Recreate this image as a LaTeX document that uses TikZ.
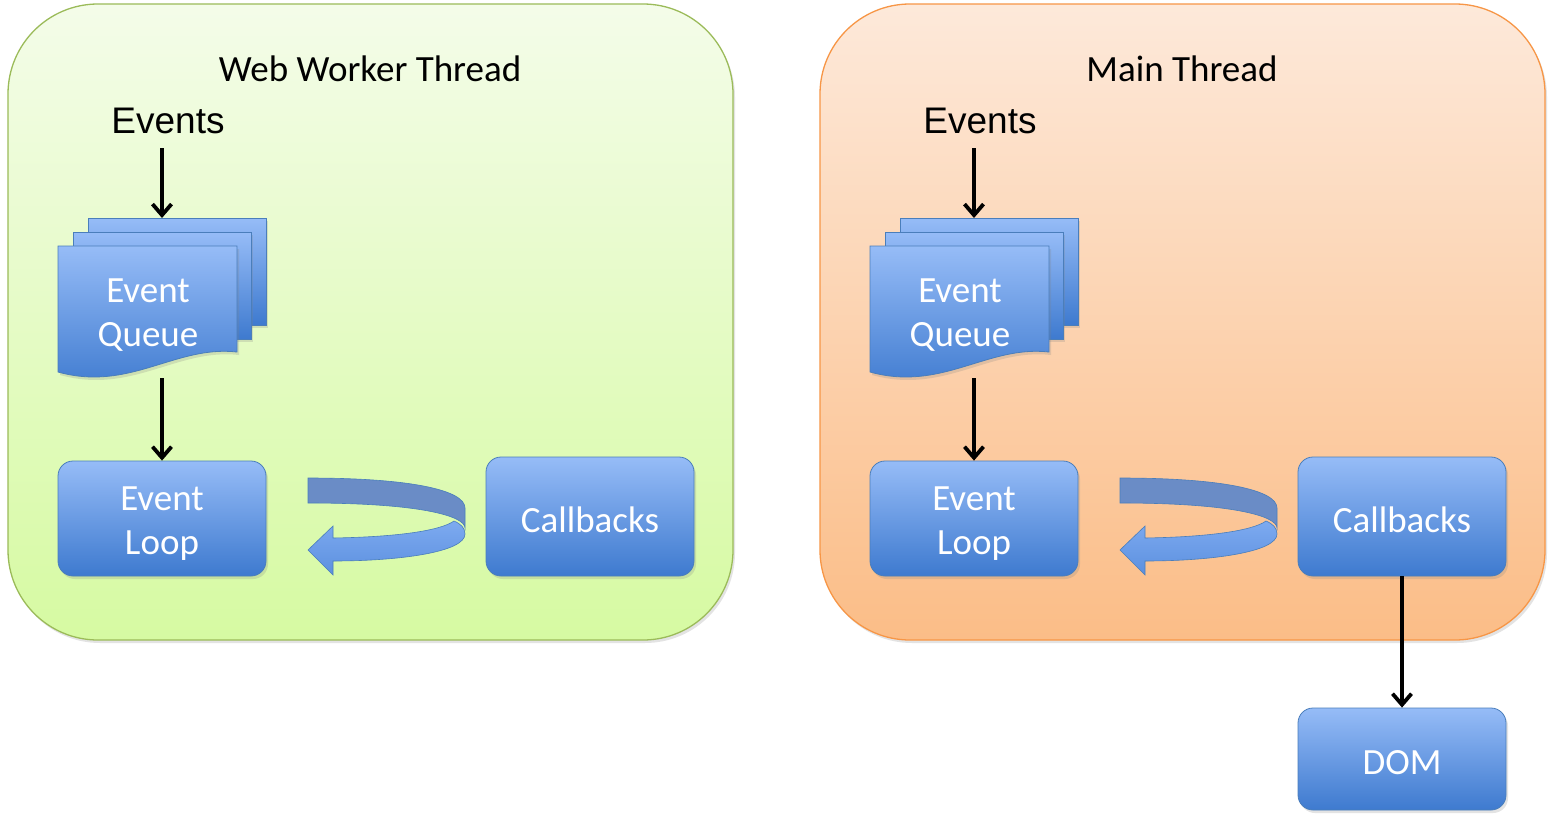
\documentclass[tikz,border=0pt]{standalone}
\usepackage{fontspec}
\setmainfont{Carlito}
\newfontfamily\arialf{Liberation Sans}
\usetikzlibrary{arrows.meta,shadows,calc}
\definecolor{gtop}{HTML}{F4FCE9}
\definecolor{gbot}{HTML}{D6FAA2}
\definecolor{gline}{HTML}{9BBB59}
\definecolor{otop}{HTML}{FDE9DA}
\definecolor{obot}{HTML}{FBBD87}
\definecolor{oline}{HTML}{F79646}
\definecolor{btop}{HTML}{96BCF7}
\definecolor{bbot}{HTML}{3E7ACF}
\definecolor{bline}{HTML}{4A7EBB}
\definecolor{bdark}{HTML}{6A8CC6}
\definecolor{bfront1}{HTML}{7DAAF0}
\definecolor{bfront2}{HTML}{5C90DF}
\tikzset{
  softshadow/.style={drop shadow={opacity=0.22, shadow xshift=2pt, shadow yshift=-3pt}},
  panel/.style={draw, line width=1.3pt, rounded corners=90pt, minimum width=725pt, minimum height=636pt, inner sep=0, softshadow},
  bigtext/.style={font=\fontsize{37}{44}\selectfont},
  box/.style={draw=bline, line width=0.8pt, rounded corners=15pt, top color=btop, bottom color=bbot,
    minimum width=208pt, inner sep=0, softshadow},
  boxtext/.style={text=white, bigtext, align=center, inner sep=0},
  sheet/.style={draw=bline, line width=0.8pt, top color=btop, bottom color=bbot, softshadow},
  ribbonback/.style={draw=bline, line width=0.6pt, fill=bdark},
  ribbonfront/.style={draw=bline, line width=0.6pt, top color=bfront1, bottom color=bfront2},
  arr/.style={line width=3.8pt, -{Straight Barb[length=11pt,width=19pt,line width=3.8pt]}},
}
\begin{document}
\begin{tikzpicture}[x=1pt,y=-1pt]
\useasboundingbox (0,0) rectangle (1553,822);
\fill[white] (0,0) rectangle (1553,822);
% panels
\node[panel, draw=gline, top color=gtop, bottom color=gbot] (wpanel) at (370.5,322) {};
\node[panel, draw=oline, top color=otop, bottom color=obot] (mpanel) at (1182.5,322) {};
\node[bigtext] (wtitle) at (370,69) {Web Worker Thread};
\node[bigtext] (mtitle) at (1182,69) {Main Thread};
\foreach \s/\dx in {1/0,2/812}{
\begin{scope}[xshift=\dx pt]
  \node[font=\arialf\fontsize{37}{44}\selectfont, inner sep=0] (ev\s) at (168,121) {Events};
  % stacked document
  \path[sheet] (88,218) rectangle (266,325);
  \path[sheet] (73,232) rectangle (251,339);
  \path[sheet] (58,246) -- (237,246) -- (237,352)
     .. controls (175,345) and (130,392) .. (58,372) -- cycle;
  \node[boxtext] (eq\s) at (148,315) {Event\\Queue};
  \node[box, minimum height=115pt] (loop\s) at (162,518.5) {};
  \node[boxtext] (loopt\s) at (162,524) {Event\\Loop};
  \node[box, minimum height=119pt] (cb\s) at (590,516.5) {};
  \node[boxtext] (cbt\s) at (590,519.5) {Callbacks};
  \coordinate (a\s) at (162,148);
  \coordinate (b\s) at (162,218);
  \coordinate (c\s) at (162,378);
  \draw[arr] (a\s) -- (b\s);
  \draw[arr] (c\s) -- (loop\s.north);
  % curved u-turn arrow
  \path[ribbonback] (308,478) .. controls (410,478) and (465,490) .. (465,508)
     -- (465,528) .. controls (465,516) and (420,503) .. (308,503) -- cycle;
  \path[ribbonfront] (333,538) .. controls (395,537) and (440,531) .. (454,521)
     .. controls (461,524) and (465,528) .. (465,534)
     .. controls (465,552) and (400,561) .. (333,561)
     -- (333,575) -- (308,550) -- (333,526) -- cycle;
\end{scope}
}
\node[box, minimum height=102pt] (dom) at (1402,759) {};
\node[boxtext] (domt) at (1402,763) {DOM};
\draw[arr] (cb2.south) -- (dom.north);
\end{tikzpicture}
\end{document}
